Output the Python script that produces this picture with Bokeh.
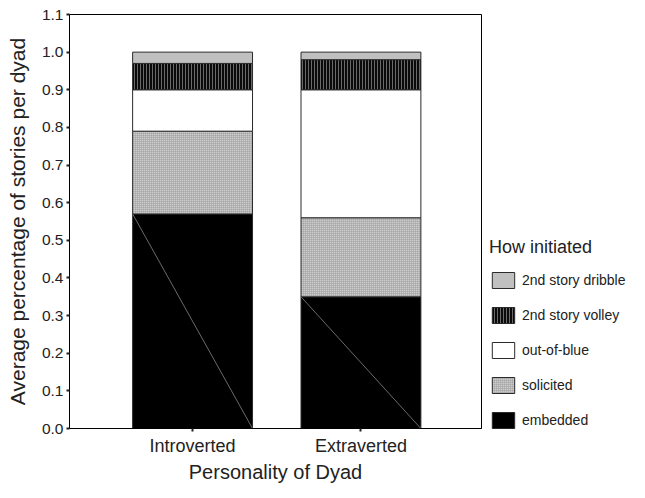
import numpy as np
from bokeh.plotting import figure
from bokeh.models import (Range1d, FixedTicker, PrintfTickFormatter, Legend, LegendItem, ColumnDataSource)
from bokeh.embed import file_html
from bokeh.resources import INLINE

categories = ["Introverted", "Extraverted"]
types = ["embedded", "solicited", "out-of-blue", "2nd story volley", "2nd story dribble"]
embedded = [0.57, 0.35]
solicited = [0.22, 0.21]
out_of_blue = [0.11, 0.34]
volley = [0.07, 0.08]
dribble = [0.03, 0.02]
y_ticks = [0.0, 0.1, 0.2, 0.3, 0.4, 0.5, 0.6, 0.7, 0.8, 0.9, 1.0, 1.1]

series = [embedded, solicited, out_of_blue, volley, dribble]
styles = [
    dict(fill_color="#000000", hatch_pattern=None),
    dict(fill_color="#cdcdcd", hatch_pattern="cross", hatch_scale=2, hatch_color="#9c9c9c", hatch_weight=1),
    dict(fill_color="#ffffff", hatch_pattern=None),
    dict(fill_color="#0a0a0a", hatch_pattern="vertical_line", hatch_scale=3, hatch_color="#6a6a6a", hatch_weight=1),
    dict(fill_color="#c0c0c0", hatch_pattern=None),
]

FONT = "Liberation Sans"
xs = np.arange(len(categories)) + 0.5
bar_w = 0.712

p = figure(frame_width=412, frame_height=414, output_backend="svg", toolbar_location=None,
           x_range=Range1d(-0.231, 2.216), y_range=Range1d(0, 1.1),
           min_border_left=69, min_border_right=148, min_border_top=14, min_border_bottom=50)

bottoms = np.zeros(len(categories))
renderers = []
for vals, st in zip(series, styles):
    tops = bottoms + np.array(vals)
    kw = {k: v for k, v in st.items() if v is not None}
    src = ColumnDataSource(dict(x=xs, bottom=bottoms, top=tops))
    r = p.vbar(x="x", bottom="bottom", top="top", width=bar_w, source=src,
               line_color="#2a2a2a", line_width=1, **kw)
    renderers.append(r)
    if vals is embedded:
        # SPSS-style diagonal artefact in embedded segment
        p.segment(x0=list(xs - bar_w / 2), y0=list(tops), x1=list(xs + bar_w / 2), y1=list(bottoms),
                  line_color="#6a6a6a", line_width=1)
    bottoms = tops

p.xgrid.visible = False
p.ygrid.visible = False
p.outline_line_color = "#000000"
p.outline_line_width = 1
p.background_fill_color = "white"
p.border_fill_color = "white"

p.yaxis.ticker = FixedTicker(ticks=y_ticks)
p.yaxis.formatter = PrintfTickFormatter(format="%.1f")
p.xaxis.ticker = FixedTicker(ticks=list(xs))
p.xaxis.major_label_overrides = {float(x): c for x, c in zip(xs, categories)}

for ax in (p.xaxis[0], p.yaxis[0]):
    ax.axis_line_color = "#000000"
    ax.major_tick_out = 3
    ax.major_tick_in = 0
    ax.major_tick_line_width = 2
    ax.major_tick_line_color = "#222222"
    ax.minor_tick_line_color = None
    ax.major_label_text_font = FONT
    ax.major_label_text_color = "#222222"
    ax.axis_label_text_font = FONT
    ax.axis_label_text_font_style = "normal"
    ax.axis_label_text_color = "#222222"
    ax.axis_label_text_font_size = "20px"

p.yaxis.axis_label_text_font_size = "21px"
p.yaxis.major_label_text_font_size = "15.5px"
p.yaxis.major_label_standoff = 3
p.yaxis.axis_label = "Average percentage of stories per dyad"
p.yaxis.axis_label_standoff = 10
p.xaxis.major_label_text_font_size = "18px"
p.xaxis.major_label_standoff = 4
p.xaxis.axis_label = "Personality of Dyad"
p.xaxis.axis_label_standoff = 2

items = []
order = [4, 3, 2, 1, 0]
for i in order:
    items.append(LegendItem(label=types[i], renderers=[renderers[i]]))

legend = Legend(items=items, location=(8, -2), title="How initiated",
                title_text_font=FONT, title_text_font_size="18px", title_text_font_style="normal",
                title_text_color="#222222", title_standoff=12,
                label_text_font=FONT, label_text_font_size="14px", label_text_color="#222222",
                label_text_baseline="top",
                glyph_width=28, glyph_height=20, label_height=20, label_standoff=5,
                spacing=15, padding=2, margin=0,
                border_line_color=None, background_fill_alpha=0)
p.add_layout(legend, "right")

open("out.html", "w").write(file_html(p, INLINE))
